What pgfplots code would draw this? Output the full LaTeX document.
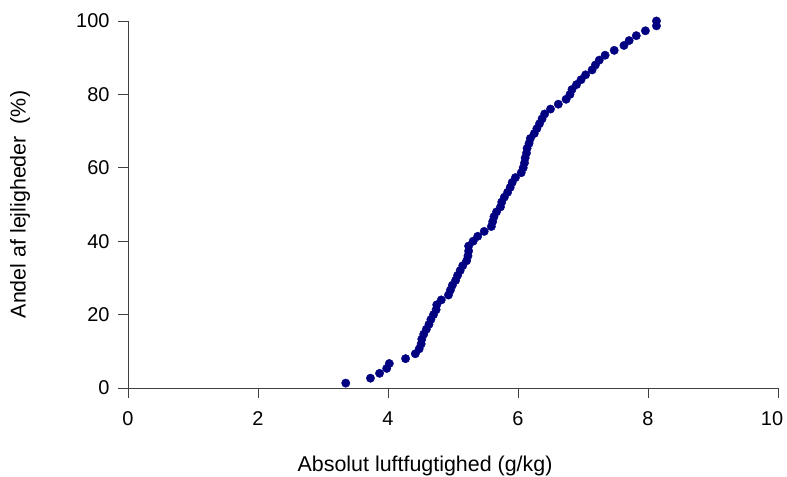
\documentclass[border=0pt]{standalone}
\usepackage{fontspec}
\setmainfont{Liberation Sans}
\usepackage{pgfplots}
\pgfplotsset{compat=1.18}
\definecolor{navyblue}{RGB}{0,0,128}
\begin{document}
\begin{tikzpicture}[x=1bp,y=1bp,font=\fontsize{20}{24}\selectfont]
\path[use as bounding box] (0,0) rectangle (787,477);
\begin{axis}[
  at={(128bp,89bp)}, anchor=south west,
  width=650bp, height=367bp, scale only axis,
  xmin=0, xmax=10, ymin=0, ymax=100,
  enlargelimits=false, clip=false,
  axis x line=bottom, axis y line=left,
  axis line style={-, black!75, line width=0.7pt},
  tick style={black!75, line width=0.7pt},
  tick align=outside, major tick length=10bp,
  xtick={0,2,...,10}, ytick={0,20,...,100},
  xticklabels={0,2,4,6,8,{\makebox[0pt]{\hspace*{-12bp}10}}},
  /pgf/number format/assume math mode=true,
  xticklabel style={yshift=-10bp},
  yticklabel style={xshift=-5bp},
  xlabel={Absolut luftfugtighed (g/kg)},
  ylabel={Andel af lejligheder\ \ (\%)},
  label style={font=\fontsize{21.5}{25}\selectfont},
  xlabel style={at={(axis description cs:0.457,-0.2125)}, anchor=center},
  ylabel style={at={(axis description cs:-0.166,0.5)}, anchor=center, rotate=0},
]
\addplot[only marks, mark=*, mark size=4.2bp, color=navyblue, mark options={draw=navyblue, fill=navyblue}] coordinates {
(3.35,1.33) (3.73,2.67) (3.87,4) (3.98,5.33) (4.02,6.67) (4.27,8) (4.42,9.33) (4.48,10.67)
(4.51,12) (4.52,13.33) (4.55,14.67) (4.59,16) (4.63,17.33) (4.66,18.67) (4.70,20) (4.74,21.33)
(4.75,22.67) (4.82,24) (4.93,25.33) (4.96,26.67) (4.99,28) (5.04,29.33) (5.07,30.67) (5.11,32)
(5.15,33.33) (5.21,34.67) (5.23,36) (5.24,37.33) (5.24,38.67) (5.31,40) (5.38,41.33) (5.48,42.67)
(5.59,44) (5.61,45.33) (5.63,46.67) (5.67,48) (5.73,49.33) (5.75,50.67) (5.79,52) (5.84,53.33)
(5.88,54.67) (5.91,56) (5.96,57.33) (6.05,58.67) (6.08,60) (6.10,61.33) (6.11,62.67) (6.13,64)
(6.14,65.33) (6.17,66.67) (6.19,68) (6.25,69.33) (6.29,70.67) (6.33,72) (6.37,73.33) (6.41,74.67)
(6.50,76) (6.62,77.33) (6.74,78.67) (6.80,80) (6.83,81.33) (6.90,82.67) (6.97,84) (7.04,85.33)
(7.14,86.67) (7.19,88) (7.25,89.33) (7.34,90.67) (7.48,92) (7.63,93.33) (7.71,94.67) (7.82,96)
(7.96,97.33) (8.13,98.67) (8.13,100)
};
\end{axis}
\end{tikzpicture}
\end{document}
